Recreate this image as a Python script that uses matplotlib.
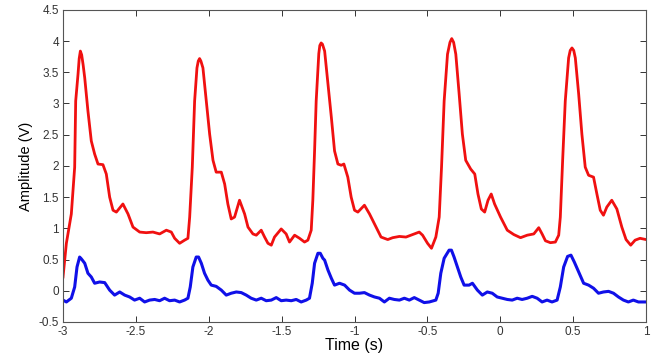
import matplotlib
matplotlib.use("Agg")
import matplotlib.pyplot as plt

# red trace (time s, amplitude V)
red_t = [-3.000, -2.977, -2.943, -2.920, -2.913, -2.897, -2.889, -2.881, -2.872, -2.862, -2.851, -2.829, -2.806,
         -2.783, -2.760, -2.726, -2.703, -2.680, -2.657, -2.634, -2.589, -2.554, -2.520,
         -2.474, -2.429, -2.383, -2.337, -2.291, -2.257, -2.234, -2.200, -2.166, -2.143,
         -2.131, -2.113, -2.097, -2.081, -2.072, -2.063, -2.054, -2.040, -2.017, -1.994, -1.971, -1.949,
         -1.914, -1.891, -1.869, -1.846, -1.823, -1.789, -1.754, -1.731, -1.697, -1.674,
         -1.640, -1.617, -1.594, -1.571, -1.549, -1.503, -1.469, -1.446, -1.411, -1.377,
         -1.343, -1.320, -1.297, -1.286, -1.274, -1.263, -1.245, -1.238, -1.229, -1.220, -1.205, -1.182,
         -1.159, -1.137, -1.114, -1.091, -1.073, -1.046, -1.023, -1.000, -0.977, -0.932,
         -0.897, -0.863, -0.818, -0.772, -0.738, -0.692, -0.647, -0.601, -0.556, -0.533,
         -0.499, -0.472, -0.442, -0.419, -0.403, -0.385, -0.362, -0.345, -0.333, -0.320, -0.305, -0.282,
         -0.260, -0.237, -0.203, -0.175, -0.153, -0.130, -0.107, -0.084, -0.062, -0.039,
         0.002, 0.048, 0.093, 0.139, 0.185, 0.230, 0.264, 0.287, 0.310, 0.344,
         0.378, 0.401, 0.412, 0.428, 0.446, 0.469, 0.480, 0.492, 0.504, 0.515, 0.538, 0.560,
         0.583, 0.606, 0.640, 0.663, 0.686, 0.708, 0.731, 0.765, 0.800, 0.834,
         0.863, 0.895, 0.925, 0.959, 1.000]
red_v = [0.22, 0.76, 1.23, 1.98, 3.04, 3.47, 3.72, 3.84, 3.78, 3.62, 3.41, 2.88, 2.40,
         2.19, 2.03, 2.02, 1.87, 1.50, 1.29, 1.26, 1.39, 1.23, 1.02,
         0.94, 0.93, 0.94, 0.91, 0.97, 0.94, 0.84, 0.76, 0.81, 0.84,
         1.18, 1.98, 3.04, 3.57, 3.68, 3.72, 3.68, 3.57, 3.04, 2.51, 2.09, 1.90,
         1.90, 1.71, 1.39, 1.15, 1.18, 1.45, 1.23, 1.02, 0.91, 0.89,
         0.97, 0.86, 0.76, 0.73, 0.86, 0.99, 0.91, 0.78, 0.89, 0.84,
         0.78, 0.81, 0.97, 1.45, 2.24, 3.04, 3.80, 3.93, 3.97, 3.95, 3.84, 3.31,
         2.78, 2.24, 2.03, 2.01, 2.03, 1.82, 1.50, 1.29, 1.26, 1.37,
         1.23, 1.07, 0.86, 0.82, 0.85, 0.87, 0.86, 0.90, 0.94, 0.89,
         0.76, 0.68, 0.86, 1.18, 1.98, 3.04, 3.79, 3.98, 4.04, 3.98, 3.79, 3.15,
         2.51, 2.09, 1.95, 1.87, 1.55, 1.31, 1.26, 1.45, 1.55, 1.39,
         1.18, 0.97, 0.90, 0.85, 0.89, 0.91, 1.01, 0.91, 0.80, 0.77,
         0.78, 0.89, 1.18, 2.09, 3.04, 3.73, 3.85, 3.89, 3.85, 3.73, 3.15, 2.51,
         1.98, 1.85, 1.82, 1.55, 1.29, 1.21, 1.34, 1.45, 1.31, 1.02,
         0.82, 0.73, 0.81, 0.84, 0.82]

# blue trace
blue_t = [-3.000, -2.977, -2.943, -2.920, -2.904, -2.886, -2.874, -2.851, -2.829, -2.806,
          -2.783, -2.749, -2.714, -2.680, -2.646, -2.611, -2.577, -2.543, -2.509, -2.474,
          -2.440, -2.406, -2.371, -2.337, -2.303, -2.269, -2.234, -2.200, -2.166, -2.143,
          -2.127, -2.109, -2.086, -2.070, -2.051, -2.029, -2.006, -1.983, -1.949, -1.914,
          -1.880, -1.846, -1.811, -1.777, -1.743, -1.709, -1.674, -1.640, -1.606, -1.571,
          -1.537, -1.503, -1.469, -1.434, -1.400, -1.366, -1.331, -1.309, -1.290, -1.274,
          -1.251, -1.235, -1.217, -1.205, -1.182, -1.159, -1.137, -1.103, -1.068, -1.034,
          -1.000, -0.966, -0.932, -0.897, -0.863, -0.829, -0.795, -0.761, -0.727, -0.692,
          -0.658, -0.624, -0.590, -0.556, -0.522, -0.487, -0.442, -0.426, -0.408, -0.385,
          -0.351, -0.335, -0.317, -0.294, -0.271, -0.248, -0.214, -0.191, -0.157, -0.123,
          -0.089, -0.055, -0.021, 0.014, 0.048, 0.082, 0.116, 0.150, 0.185, 0.219,
          0.253, 0.287, 0.321, 0.355, 0.390, 0.412, 0.435, 0.462, 0.485, 0.508,
          0.538, 0.572, 0.606, 0.640, 0.674, 0.708, 0.743, 0.777, 0.811, 0.845,
          0.879, 0.913, 0.948, 1.000]
blue_v = [-0.15, -0.18, -0.12, 0.06, 0.38, 0.54, 0.51, 0.44, 0.28, 0.22,
          0.12, 0.14, 0.13, 0.01, -0.07, -0.02, -0.07, -0.10, -0.15, -0.12,
          -0.18, -0.15, -0.14, -0.16, -0.12, -0.16, -0.15, -0.18, -0.15, -0.12,
          0.06, 0.38, 0.54, 0.54, 0.44, 0.28, 0.17, 0.09, 0.07, 0.01,
          -0.07, -0.04, -0.02, -0.03, -0.07, -0.12, -0.15, -0.12, -0.16, -0.15,
          -0.11, -0.16, -0.15, -0.16, -0.14, -0.18, -0.15, -0.12, 0.12, 0.44,
          0.60, 0.60, 0.52, 0.49, 0.33, 0.20, 0.09, 0.12, 0.09, 0.01,
          -0.04, -0.04, -0.03, -0.07, -0.10, -0.12, -0.18, -0.12, -0.14, -0.15,
          -0.12, -0.15, -0.11, -0.15, -0.19, -0.18, -0.15, -0.04, 0.28, 0.52,
          0.65, 0.65, 0.54, 0.38, 0.22, 0.09, 0.09, 0.12, 0.01, -0.07,
          -0.02, -0.04, -0.10, -0.12, -0.14, -0.15, -0.12, -0.14, -0.12, -0.09,
          -0.12, -0.18, -0.15, -0.18, -0.15, 0.06, 0.38, 0.55, 0.57, 0.46,
          0.30, 0.12, 0.09, 0.04, -0.04, -0.02, -0.01, -0.04, -0.10, -0.15,
          -0.18, -0.15, -0.18, -0.18]

x_ticks = [-3, -2.5, -2, -1.5, -1, -0.5, 0, 0.5, 1]
x_labels = ["-3", "-2.5", "-2", "-1.5", "-1", "-0.5", "0", "0.5", "1"]
y_ticks = [-0.5, 0, 0.5, 1, 1.5, 2, 2.5, 3, 3.5, 4, 4.5]
y_labels = ["-0.5", "0", "0.5", "1", "1.5", "2", "2.5", "3", "3.5", "4", "4.5"]

plt.rcParams["font.family"] = ["Liberation Sans", "DejaVu Sans"]

fig = plt.figure(figsize=(6.53, 3.53), dpi=100)
ax = fig.add_axes([0.0965, 0.088, 0.8928, 0.884])

ax.plot(red_t, red_v, color="#f01010", lw=2.0, solid_joinstyle="round")
ax.plot(blue_t, blue_v, color="#1010e8", lw=2.2, solid_joinstyle="round")

ax.set_xlim(-3, 1)
ax.set_ylim(-0.5, 4.5)
ax.set_xticks(x_ticks)
ax.set_xticklabels(x_labels)
ax.set_yticks(y_ticks)
ax.set_yticklabels(y_labels)
ax.tick_params(direction="in", top=True, right=True, length=4, width=0.7,
               labelsize=8.5, colors="#333333", pad=3)
for s in ax.spines.values():
    s.set_color("#555555")
    s.set_linewidth(0.8)

ax.set_xlabel("Time (s)", fontsize=11.5, labelpad=0)
ax.set_ylabel("Amplitude (V)", fontsize=10.5, labelpad=4)

fig.savefig("out.png", dpi=100)
